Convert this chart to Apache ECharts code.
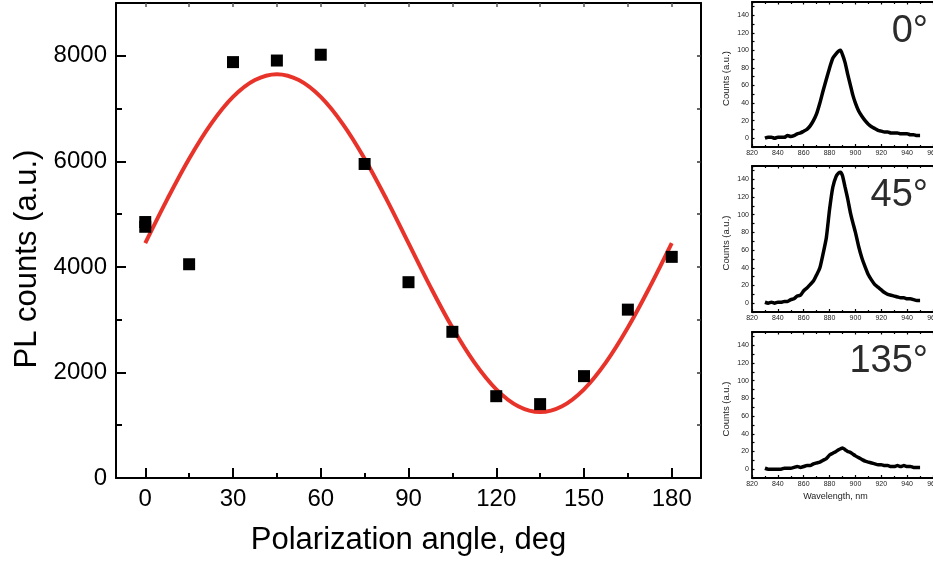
<!DOCTYPE html>
<html>
<head>
<meta charset="utf-8">
<script src="https://cdn.jsdelivr.net/npm/echarts@6/dist/echarts.min.js"></script>
<style>
html,body{margin:0;padding:0;background:#fff;}
#chart{width:933px;height:565px;}
</style>
</head>
<body>
<div id="chart"></div>
<script>
// ---- Main chart data ----
const angles = [0, 0, 15, 30, 45, 60, 75, 90, 105, 120, 135, 150, 165, 180];
const plCounts = [4850, 4760, 4050, 7880, 7910, 8020, 5950, 3710, 2770, 1550, 1400, 1930, 3190, 4190];
const fitAngles = [0, 7.5, 15, 22.5, 30, 37.5, 45, 52.5, 60, 67.5, 75, 82.5, 90, 97.5, 105, 112.5, 120, 127.5, 135, 142.5, 150, 157.5, 165, 172.5, 180];
const fitCounts = [4450, 5280, 6050, 6710, 7220, 7540, 7650, 7540, 7220, 6710, 6050, 5280, 4450, 3620, 2850, 2190, 1680, 1360, 1250, 1360, 1680, 2190, 2850, 3620, 4450];
const angleTicks = [0, 30, 60, 90, 120, 150, 180];
const angleMinorTicks = [15, 45, 75, 105, 135, 165];
const angleAllTicks = [0, 15, 30, 45, 60, 75, 90, 105, 120, 135, 150, 165, 180];
const countTicks = [0, 2000, 4000, 6000, 8000];
const countMinorTicks = [1000, 3000, 5000, 7000];
const countAllTicks = [1000, 2000, 3000, 4000, 5000, 6000, 7000, 8000];

// ---- Inset spectra ----
const wavelength = [830, 832.5, 835, 837.5, 840, 842.5, 845, 847.5, 850, 852.5, 855, 857.5, 860, 862.5, 865, 867.5, 870, 872.5, 875, 877.5, 880, 882.5, 885, 887, 888.5, 890, 892, 894, 896, 898, 900, 902.5, 905, 907.5, 910, 912.5, 915, 917.5, 920, 922.5, 925, 927.5, 930, 932.5, 935, 937.5, 940, 942.5, 945, 947.5, 950];
const spec0 = [0, 1, 1, 0, 1, 1, 1, 3, 2, 3, 5, 6, 8, 10, 14, 20, 28, 40, 54, 67, 80, 91, 96, 99, 100, 95, 86, 73, 61, 49, 40, 31, 25, 20, 16, 13, 11, 9, 8, 7, 7, 6, 6, 6, 5, 5, 5, 4, 4, 3, 3];
const spec45 = [1, 0, 1, 0, 1, 1, 2, 2, 4, 5, 8, 9, 14, 17, 21, 25, 32, 40, 56, 74, 106, 131, 143, 147, 148, 144, 131, 118, 103, 91, 80, 64, 51, 41, 32, 26, 21, 18, 15, 12, 10, 9, 8, 7, 6, 6, 5, 5, 4, 3, 3];
const spec135 = [1, 0, 0, 0, 0, 0, 1, 1, 1, 2, 3, 2, 3, 4, 4, 6, 7, 8, 10, 12, 16, 18, 20, 22, 23, 24, 22, 20, 19, 17, 15, 13, 11, 9, 8, 7, 6, 5, 5, 4, 4, 3, 3, 4, 3, 4, 3, 3, 2, 2, 2];
const insetLabels = ['0°', '45°', '135°'];
const insetSpectra = [spec0, spec45, spec135];

const FONT = "'Liberation Sans', Arial, Helvetica, sans-serif";
const BLACK = '#000';

const chart = echarts.init(document.getElementById('chart'), null, {renderer: 'canvas'});

const grids = [
  {left: 116, top: 3, width: 585, height: 475, outerBoundsMode: 'none', containLabel: false},
  {left: 752, top: 2, width: 181, height: 145, outerBoundsMode: 'none', containLabel: false},
  {left: 752, top: 166, width: 181, height: 146, outerBoundsMode: 'none', containLabel: false},
  {left: 752, top: 332, width: 181, height: 146, outerBoundsMode: 'none', containLabel: false}
];

const plain = v => String(v);

const xAxes = [];
const yAxes = [];

// main x axes
xAxes.push({
  gridIndex: 0, type: 'value', min: -10, max: 190, position: 'bottom',
  name: 'Polarization angle, deg', nameLocation: 'middle', nameGap: 47,
  nameTextStyle: {fontSize: 31, color: BLACK, fontFamily: FONT},
  axisLine: {onZero: false, lineStyle: {color: BLACK, width: 2}},
  axisTick: {inside: true, length: 10, customValues: angleTicks, lineStyle: {color: BLACK, width: 2}},
  axisLabel: {customValues: angleTicks, fontSize: 24, color: BLACK, fontFamily: FONT, margin: 9, formatter: plain},
  splitLine: {show: false}
});
xAxes.push({
  gridIndex: 0, type: 'value', min: -10, max: 190, position: 'bottom',
  axisLine: {show: false, onZero: false},
  axisTick: {inside: true, length: 5, customValues: angleMinorTicks, lineStyle: {color: BLACK, width: 2}},
  axisLabel: {show: false}, splitLine: {show: false}
});
xAxes.push({
  gridIndex: 0, type: 'value', min: -10, max: 190, position: 'top',
  axisLine: {onZero: false, lineStyle: {color: BLACK, width: 2}},
  axisTick: {inside: true, length: 4, customValues: angleAllTicks, lineStyle: {color: '#555', width: 1.5}},
  axisLabel: {show: false}, splitLine: {show: false}
});
// main y axes
yAxes.push({
  gridIndex: 0, type: 'value', min: 0, max: 9000, position: 'left',
  name: 'PL counts (a.u.)', nameLocation: 'middle', nameGap: 72,
  nameTextStyle: {fontSize: 31, color: BLACK, fontFamily: FONT, padding: [0, 37, 0, 0]},
  axisLine: {show: true, onZero: false, lineStyle: {color: BLACK, width: 2}},
  axisTick: {show: true, inside: true, length: 10, customValues: countTicks, lineStyle: {color: BLACK, width: 2}},
  axisLabel: {customValues: countTicks, fontSize: 24, color: BLACK, fontFamily: FONT, margin: 9, formatter: plain},
  splitLine: {show: false}
});
yAxes.push({
  gridIndex: 0, type: 'value', min: 0, max: 9000, position: 'left',
  axisLine: {show: false, onZero: false},
  axisTick: {show: true, inside: true, length: 6, customValues: countMinorTicks, lineStyle: {color: BLACK, width: 2}},
  axisLabel: {show: false}, splitLine: {show: false}
});
yAxes.push({
  gridIndex: 0, type: 'value', min: 0, max: 9000, position: 'right',
  axisLine: {show: true, onZero: false, lineStyle: {color: BLACK, width: 2}},
  axisTick: {show: true, inside: true, length: 4, customValues: countAllTicks, lineStyle: {color: '#333', width: 1.5}},
  axisLabel: {show: false}, splitLine: {show: false}
});

// inset axes
for (let k = 0; k < 3; k++) {
  const g = k + 1;
  const bottomAxis = {
    gridIndex: g, type: 'value', min: 820, max: 960, interval: 20, position: 'bottom',
    axisLine: {onZero: false, lineStyle: {color: BLACK, width: 1.8}},
    axisTick: {inside: true, length: 3, lineStyle: {color: BLACK, width: 1.2}},
    minorTick: {show: true, splitNumber: 2, length: 2, lineStyle: {color: BLACK, width: 1.2}},
    axisLabel: {fontSize: 7, color: '#222', fontFamily: FONT, margin: 3, formatter: plain},
    splitLine: {show: false}, minorSplitLine: {show: false}
  };
  if (k === 2) {
    bottomAxis.name = 'Wavelength, nm';
    bottomAxis.nameLocation = 'middle';
    bottomAxis.nameGap = 14;
    bottomAxis.nameTextStyle = {fontSize: 9, color: '#222', fontFamily: FONT, padding: [0, 14, 0, 0]};
  }
  xAxes.push(bottomAxis);
  xAxes.push({
    gridIndex: g, type: 'value', min: 820, max: 960, interval: 20, position: 'top',
    axisLine: {onZero: false, lineStyle: {color: BLACK, width: 1.8}},
    axisTick: {inside: true, length: 2.5, lineStyle: {color: BLACK, width: 1.2}},
    minorTick: {show: true, splitNumber: 2, length: 2, lineStyle: {color: BLACK, width: 1.2}},
    axisLabel: {show: false}, splitLine: {show: false}
  });
  yAxes.push({
    gridIndex: g, type: 'value', min: -10, max: 155, interval: 10, position: 'left',
    name: 'Counts (a.u.)', nameLocation: 'middle', nameGap: 21,
    nameTextStyle: {fontSize: 9.5, color: '#222', fontFamily: FONT, padding: [0, 8, 0, 0]},
    axisLine: {show: true, onZero: false, lineStyle: {color: BLACK, width: 1.8}},
    axisTick: {show: true, inside: true, length: 2.5, lineStyle: {color: BLACK, width: 1.2}},
    axisLabel: {
      fontSize: 7, color: '#222', fontFamily: FONT, margin: 3,
      formatter: function (v) { return (v >= 0 && v <= 140 && v % 20 === 0) ? String(v) : ''; }
    },
    splitLine: {show: false}
  });
}

const series = [
  {
    type: 'line', xAxisIndex: 0, yAxisIndex: 0,
    data: fitAngles.map((a, i) => [a, fitCounts[i]]),
    smooth: 0.35, showSymbol: false, symbol: 'none',
    lineStyle: {color: '#e8332a', width: 4}, z: 3, silent: true
  },
  {
    type: 'scatter', xAxisIndex: 0, yAxisIndex: 0,
    data: angles.map((a, i) => [a, plCounts[i]]),
    symbol: 'rect', symbolSize: 12,
    itemStyle: {color: BLACK, opacity: 1}, z: 4
  }
];
for (let k = 0; k < 3; k++) {
  series.push({
    type: 'line', xAxisIndex: 3 + 2 * k, yAxisIndex: 3 + k,
    data: wavelength.map((w, i) => [w, insetSpectra[k][i]]),
    showSymbol: false, symbol: 'none', smooth: 0.2,
    lineStyle: {color: BLACK, width: 3.5}, z: 3
  });
}

const graphic = insetLabels.map((t, k) => ({
  type: 'text',
  right: 5,
  top: grids[k + 1].top + 11,
  style: {text: t, font: '38px ' + FONT, fill: '#2b2b2b'},
  z: 10
}));

chart.setOption({
  animation: false,
  backgroundColor: '#fff',
  grid: grids,
  xAxis: xAxes,
  yAxis: yAxes,
  series: series,
  graphic: graphic
});
</script>
</body>
</html>
